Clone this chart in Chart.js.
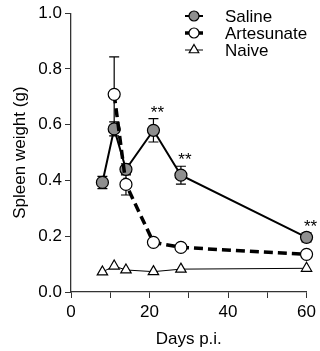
<!DOCTYPE html>
<html>
<head>
<meta charset="utf-8">
<script src="https://cdn.jsdelivr.net/npm/chart.js@4"></script>
<style>
  html, body { margin: 0; padding: 0; background: #fff; }
</style>
</head>
<body>
<canvas id="chart" width="320" height="351"></canvas>
<script>
// Dagen na infectie en gemiddelden per groep
const days = [8, 11, 14, 21, 28, 60];
const salineMean = [0.393, 0.585, 0.44, 0.58, 0.419, 0.196];
const salineErr = [0.022, 0.025, 0.02, 0.042, 0.032, 0.016];
const artesunateMean = [null, 0.709, 0.386, 0.178, 0.16, 0.135];
const artesunateErr = [null, 0.134, 0.038, 0.006, 0.006, 0.006];
const naiveMean = [0.072, 0.093, 0.079, 0.073, 0.082, 0.085];
const salineStars = [null, null, null, '**', '**', '**'];
const yTicks = [0, 0.2, 0.4, 0.6, 0.8, 1.0];
const xTickLabels = [0, 20, 40, 60];

const FONT = "'Liberation Sans', Arial, sans-serif";

const toPoints = (vals) => days.map((d, i) => ({ x: d, y: vals[i] })).filter(p => p.y !== null);
const toErr = (vals, errs) => days.map((d, i) => errs[i]).filter((e, i) => vals[i] !== null);

// foutbalken onder de markers tekenen
const errorBars = {
    id: 'errorBars',
    beforeDatasetsDraw(chart) {
        const { ctx, scales: { x, y } } = chart;
        chart.data.datasets.forEach(ds => {
            if (!ds.errors) return;
            ctx.save();
            ctx.strokeStyle = '#000';
            ctx.lineWidth = 1.2;
            ds.data.forEach((p, i) => {
                const e = ds.errors[i];
                if (!e) return;
                const px = x.getPixelForValue(p.x);
                const top = y.getPixelForValue(p.y + e);
                const bot = y.getPixelForValue(p.y - e);
                ctx.beginPath();
                ctx.moveTo(px, top); ctx.lineTo(px, bot);
                ctx.moveTo(px - 5, top); ctx.lineTo(px + 5, top);
                ctx.moveTo(px - 5, bot); ctx.lineTo(px + 5, bot);
                ctx.stroke();
            });
            ctx.restore();
        });
    }
};

// sterretjes boven de saline-punten
const stars = {
    id: 'stars',
    afterDatasetsDraw(chart) {
        const { ctx, scales: { x, y } } = chart;
        ctx.save();
        ctx.fillStyle = '#000';
        ctx.font = '17px ' + FONT;
        ctx.textAlign = 'center';
        ctx.textBaseline = 'alphabetic';
        days.forEach((d, i) => {
            if (!salineStars[i]) return;
            const px = x.getPixelForValue(d) + 4;
            const py = y.getPixelForValue(salineMean[i] + salineErr[i]) - 1;
            ctx.fillText(salineStars[i], px, py);
        });
        ctx.restore();
    }
};

// eigen legenda met lijn + marker
const legendBox = {
    id: 'legendBox',
    afterDraw(chart) {
        const { ctx } = chart;
        const rows = ['Saline', 'Artesunate', 'Naive'];
        ctx.save();
        rows.forEach((name, r) => {
            const ds = chart.data.datasets.find(d => d.label === name);
            const cy = 16 + r * 17;
            ctx.strokeStyle = '#000';
            ctx.lineWidth = ds.borderWidth;
            ctx.setLineDash(name === 'Artesunate' ? [4, 10] : []);
            ctx.beginPath();
            ctx.moveTo(185, cy); ctx.lineTo(203, cy);
            ctx.stroke();
            ctx.setLineDash([]);
            ctx.lineWidth = 1.2;
            ctx.fillStyle = ds.pointBackgroundColor;
            ctx.beginPath();
            if (ds.pointStyle === 'triangle') {
                const rr = 5.5;
                ctx.moveTo(194, cy - rr);
                ctx.lineTo(194 + rr * 0.866, cy + rr * 0.5);
                ctx.lineTo(194 - rr * 0.866, cy + rr * 0.5);
                ctx.closePath();
            } else {
                ctx.arc(194, cy, 5, 0, Math.PI * 2);
            }
            ctx.fill();
            ctx.stroke();
            ctx.fillStyle = '#000';
            ctx.font = '17px ' + FONT;
            ctx.textBaseline = 'middle';
            ctx.fillText(name, 225, cy + 1);
        });
        ctx.restore();
    }
};

new Chart(document.getElementById('chart'), {
    type: 'line',
    data: {
        datasets: [{
            label: 'Saline',
            data: toPoints(salineMean),
            errors: toErr(salineMean, salineErr),
            order: 1,
            borderColor: '#000',
            borderWidth: 2,
            pointStyle: 'circle',
            pointRadius: 6,
            pointBorderWidth: 1.2,
            pointBorderColor: '#000',
            pointBackgroundColor: '#8f8f8f',
            clip: false
        }, {
            label: 'Artesunate',
            data: toPoints(artesunateMean),
            errors: toErr(artesunateMean, artesunateErr),
            order: 0,
            borderColor: '#000',
            borderWidth: 3.5,
            borderDash: [9, 5],
            pointStyle: 'circle',
            pointRadius: 6,
            pointBorderWidth: 1.2,
            pointBorderColor: '#000',
            pointBackgroundColor: '#fff',
            clip: false
        }, {
            label: 'Naive',
            data: toPoints(naiveMean),
            order: 2,
            borderColor: '#000',
            borderWidth: 1,
            pointStyle: 'triangle',
            pointRadius: 6,
            pointBorderWidth: 1.2,
            pointBorderColor: '#000',
            pointBackgroundColor: '#fff',
            clip: false
        }]
    },
    options: {
        responsive: false,
        animation: false,
        events: [],
        layout: { autoPadding: false, padding: { top: 13, right: 11, left: 0, bottom: 0 } },
        plugins: { legend: { display: false }, tooltip: { enabled: false } },
        scales: {
            x: {
                type: 'linear',
                min: 0, max: 60,
                afterFit: (s) => { s.height = 59; },
                border: { display: true, color: '#333', width: 1.3 },
                grid: { drawOnChartArea: false, drawTicks: true, tickLength: 6, color: '#333' },
                ticks: {
                    stepSize: 10, autoSkip: false, maxRotation: 0, padding: 4,
                    color: '#000', font: { family: FONT, size: 17 },
                    callback: (v) => xTickLabels.includes(v) ? String(v) : ''
                },
                title: { display: true, text: 'Days p.i.', color: '#000', font: { family: FONT, size: 17 }, padding: { top: 0, bottom: 1 } }
            },
            y: {
                min: 0, max: 1,
                afterFit: (s) => { s.width = 71; },
                afterBuildTicks: (s) => { s.ticks = yTicks.map(v => ({ value: v })); },
                border: { display: true, color: '#333', width: 1.3 },
                grid: { drawOnChartArea: false, drawTicks: true, tickLength: 6, color: '#333' },
                ticks: {
                    padding: 3, color: '#000', font: { family: FONT, size: 17 },
                    callback: (v) => v.toFixed(1)
                },
                title: { display: true, text: 'Spleen weight (g)', color: '#000', font: { family: FONT, size: 17 }, padding: { top: 10, bottom: 0 } }
            }
        }
    },
    plugins: [errorBars, stars, legendBox]
});
</script>
</body>
</html>
